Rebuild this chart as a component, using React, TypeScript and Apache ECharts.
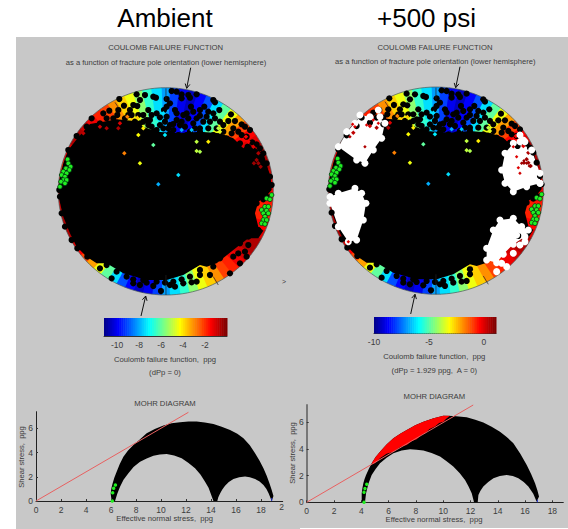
import React, { useEffect, useRef } from "react";
import * as echarts from "echarts";

const FONT = "'Liberation Sans', Arial, sans-serif";
const GRAY = "#c8c8c8";
const INK = "#3c3c3c";

// Jet colour table used by both colour bars and by the stereonets
const jet = [
  "#00008f","#00009f","#0000af","#0000bf","#0000cf","#0000df","#0000ef","#0000ff",
  "#0010ff","#0020ff","#0030ff","#0040ff","#0050ff","#0060ff","#0070ff","#0080ff",
  "#008fff","#009fff","#00afff","#00bfff","#00cfff","#00dfff","#00efff","#00ffff",
  "#10ffef","#20ffdf","#30ffcf","#40ffbf","#50ffaf","#60ff9f","#70ff8f","#80ff80",
  "#8fff70","#9fff60","#afff50","#bfff40","#cfff30","#dfff20","#efff10","#ffff00",
  "#ffef00","#ffdf00","#ffcf00","#ffbf00","#ffaf00","#ff9f00","#ff8f00","#ff8000",
  "#ff7000","#ff6000","#ff5000","#ff4000","#ff3000","#ff2000","#ff1000","#ff0000",
  "#ef0000","#df0000","#cf0000","#bf0000","#af0000","#9f0000","#8f0000","#800000",
];

// Coulomb failure function at the rim, by azimuth (every 5 deg, bipolar over 180 deg)
const rimCff = [
  -8.2,-9.2,-10.2,-10.6,-10,-9,-7.5,-6,-4.5,-3.2,-2.2,-1.5,-1,-0.6,-0.5,-0.6,-0.8,-1.2,
  -1.4,-1.6,-1.8,-1.7,-1.4,-1,-0.6,-0.5,-0.8,-1.2,-1.7,-2.2,-3,-3.8,-4.5,-5.5,-6.5,-7.5,
];

// Stereonet plane: plot units, centre at (497.5, 574)
const netCentre = [497.5, 574];
const netRadius = [322.5, 311];

const blackMass = [
  [235,412],[270,372],[310,365],[350,358],[395,362],[430,380],[470,395],[540,400],[600,395],[660,400],
  [700,415],[730,445],[745,432],[770,447],[792,465],[802,500],[812,530],[815,570],[797,590],[775,605],
  [765,640],[775,680],[790,692],[775,715],[745,715],[700,750],[650,790],[620,800],[600,795],[550,825],
  [500,840],[440,840],[370,820],[320,790],[290,790],[260,770],[230,740],[210,700],[190,650],[178,600],
  [178,540],[190,490],[205,450],
];

const blackDots = [
  [275,355],[310,340],[328,332],[358,297],[355,330],[390,330],[372,317],[400,315],[412,318],[420,300],
  [435,285],[460,290],[468,293],[410,283],[500,297],[492,330],[445,330],[430,345],[480,375],[470,390],
  [450,360],[430,365],[405,365],[375,355],[340,355],[320,355],[300,370],
  [515,273],[530,275],[545,283],[565,285],[570,293],[590,283],[545,295],[510,310],[500,320],[525,330],
  [530,340],[573,320],[613,320],[640,300],[645,307],[658,330],[640,340],[685,363],[705,363],[693,343],
  [725,373],[735,380],[750,390],[743,440],[757,427],[770,433],[695,400],[670,375],[600,347],[620,350],
  [630,365],[580,335],[550,345],[565,355],[580,370],[530,360],[555,380],[510,375],
  [340,375],[390,385],[440,400],[470,410],[510,400],[560,405],[600,385],[640,405],[680,415],[720,430],
  [610,365],[520,390],[420,370],[455,380],[600,395],[500,350],[470,340],[440,360],
  [352,345],[385,345],[415,345],[455,345],[395,345],[480,352],[495,365],[505,385],[520,372],[540,375],
  [545,365],[560,340],[590,355],[600,330],[625,335],[645,355],[660,365],[650,385],[625,385],[585,385],
  [570,395],[535,405],[490,385],[460,395],[445,375],[410,385],[670,395],[700,385],[715,395],[740,410],[725,405],
  [178,570],[180,590],[185,640],[195,680],[215,720],[232,745],[262,770],[275,765],[300,805],[335,835],
  [320,795],[400,850],[420,855],[440,848],[460,858],[483,873],[510,855],[525,860],[550,850],[575,847],
  [590,845],[600,810],[230,408],[260,380],[205,450],[815,555],[810,530],[800,490],[790,460],[780,445],
  [800,590],[790,598],[770,610],[775,690],[745,710],
  [470,845],[430,840],[400,838],[520,845],[545,838],[495,848],[570,830],[600,825],[380,830],[350,815],
];
const ambientOnlyDots = [
  [740,770],[715,760],[700,770],[720,790],[690,820],[745,735],[770,700],[640,800],[660,775],[690,745],
  [720,730],[735,755],[630,825],
];
// Coloured gaps between the points: x, y, CFF
const gaps = [
  [775,490,-0.3],[770,480,-0.3],[782,500,-0.3],[762,490,-0.3],[745,425,-1.5],[760,440,-1],[775,460,-0.5],[738,410,-1.5],
  [320,385,-0.5],[360,370,-1],[300,380,-0.8],[250,400,-0.7],[355,385,-0.6],[382,350,-2.8],[412,353,-3.8],[430,385,-4],
  [415,405,-4.2],[470,365,-6.5],[490,340,-7.5],[495,405,-7.3],[460,435,-6],[600,455,-5.2],[590,453,-5],[535,525,-7.5],
  [475,553,-8],[420,490,-4.5],[590,425,-5],[625,425,-4],[545,390,-8],[575,390,-7.8],[655,385,-5],[660,395,-4.6],[373,460,-2.8],
];
const greenDots = [
  [203,478],[205,490],[212,500],[198,505],[208,510],[190,515],[200,520],[185,525],[195,530],[190,540],[183,545],[200,540],[180,560],[195,550],
  [815,585],[800,595],[810,598],[795,620],[805,620],[785,630],[800,632],[790,640],[805,640],[795,650],[790,660],[800,660],[785,670],[795,672],
];
const netLines = [
  [498,265],[498,300],[null,null],[498,825],[498,885],[null,null],[345,307],[355,322],[null,null],[640,830],[655,855],
];

// Regions past failure at +500 psi (white)
const whiteA = [[270,347],[300,352],[330,352],[345,372],[335,417],[310,452],[285,492],[260,482],[205,442],[230,397],[255,372]];
const whiteB = [[730,432],[750,427],[765,427],[785,452],[810,522],[810,552],[770,562],[730,577],[705,552],[695,512],[705,462]];
const whiteC = [[205,582],[255,567],[275,582],[288,612],[280,662],[260,722],[235,727],[205,682],[180,612],[180,592]];
const whiteD = [[690,662],[730,657],[755,682],[775,692],[765,712],[730,735],[700,765],[680,790],[650,782],[650,747],[670,692]];
const whiteExtra = [[730,762],[710,802],[680,817],[740,707],[765,727],[750,737],[695,792],[750,407],[760,422],[325,332],[810,552]];
const redInWhite = [
  [255,382,-1],[290,377,-1],[325,372,-1],[240,412,-0.6],[285,442,-0.6],[310,362,-1],[248,375,-1],
  [770,492,-0.3],[762,484,-0.3],[778,500,-0.3],[755,492,-0.3],[750,522,-0.8],[730,442,-1],[740,472,-1],[745,505,-1],[235,727,-1],
];

// Mohr diagrams: effective normal stress, shear stress
const mohrAmbient = [
  [6.05,0],[5.97,0.63],[6.03,1.05],[6.13,1.46],[6.27,1.95],[6.45,2.42],[6.7,3.05],[6.99,3.66],[7.36,4.18],[7.79,4.63],
  [8.3,5.08],[8.85,5.59],[9.5,5.95],[10.19,6.23],[10.85,6.42],[11.52,6.5],[12.2,6.56],[12.85,6.56],[13.5,6.48],[14.19,6.36],
  [14.85,6.14],[15.52,5.87],[16.1,5.55],[16.59,5.18],[17.1,4.6],[17.52,3.94],[17.88,3.32],[18.19,2.7],[18.45,2.08],[18.67,1.46],
  [18.85,0.9],[18.99,0.41],[18.85,0],[18.61,0.63],[18.43,1],[18.19,1.32],[17.88,1.62],[17.52,1.82],[17.1,1.97],[16.72,2.02],
  [16.25,1.97],[15.79,1.82],[15.42,1.58],[15.12,1.27],[14.9,0.95],[14.72,0.63],[14.58,0.3],[14.5,0],[14.19,0],[13.97,0.63],
  [13.8,1.1],[13.52,1.6],[13.15,2.2],[12.72,2.7],[12.2,3.15],[11.65,3.53],[11.05,3.75],[10.45,3.89],[9.9,3.85],[9.39,3.73],
  [8.85,3.52],[8.32,3.25],[7.8,2.8],[7.39,2.29],[7,1.75],[6.72,1.18],[6.5,0.6],[6.32,0],
];
const mohrPressured = [
  [4.03,0],[4.03,0.68],[4.08,1.05],[4.15,1.43],[4.24,1.75],[4.35,2.05],[4.55,2.5],[4.76,2.93],[5.05,3.4],[5.37,3.8],
  [5.85,4.33],[6.35,4.8],[6.85,5.15],[7.33,5.43],[7.95,5.78],[8.55,6.05],[9.3,6.3],[10.01,6.5],[10.74,6.48],[11.72,6.38],
  [12.35,6.2],[12.94,5.98],[13.55,5.67],[14.16,5.3],[14.65,4.9],[15.14,4.43],[15.65,3.65],[16.12,2.8],[16.45,2.1],[16.73,1.43],
  [16.9,0.9],[17.02,0.43],[16.85,0.05],[16.6,0.65],[16.24,1.18],[15.9,1.52],[15.51,1.8],[15.1,1.97],[14.65,2.05],[14.15,1.97],
  [13.68,1.8],[13.3,1.52],[12.94,1.18],[12.72,0.85],[12.58,0.55],[12.53,0],[12.26,0],[12.09,0.68],[11.85,1.2],[11.6,1.68],
  [11.2,2.2],[10.74,2.68],[10.25,3.08],[9.77,3.43],[9.15,3.7],[8.55,3.88],[8.05,3.95],[7.57,3.98],[6.95,3.88],[6.35,3.68],
  [5.85,3.35],[5.37,2.93],[5.05,2.5],[4.76,2.05],[4.52,1.4],[4.35,0.68],[4.27,0],
];
const mohrFailed = [
  [4.76,2.93],[5.05,3.4],[5.37,3.8],[5.85,4.33],[6.35,4.8],[6.85,5.15],[7.33,5.43],[7.95,5.78],[8.55,6.05],[9.3,6.3],[10.01,6.5],
  [10.5,6.5],[10.2,6.25],[10.01,6.05],[9.7,5.95],[9.4,5.68],[9,5.5],[8.67,5.18],[8.4,5.05],[8.06,4.73],[7.7,4.6],[7.33,4.3],[6.85,4.15],[6.35,3.8],
  [5.85,3.65],[5.37,3.3],[5.1,3],[4.88,2.88],
];
const mohrGreenAmbient = [[6.1,0],[6.13,0.69],[6.21,1.05],[6.35,1.32]];
const mohrGreenPressured = [[4.2,0],[4.2,0.75],[4.27,1.03],[4.4,1.35]];
const frictionAmbient = [[0,0],[12.19,7.33]];
const frictionPressured = [[0,0],[12.2,7.3]];
const blueAmbient = [[18.85,0],[18.85,0.25]];
const bluePressured = [[16.9,0],[16.9,0.2]];

const mohrXTicksAmbient = [0,2,4,6,8,10,12,14,16,18];
const mohrXTicksPressured = [0,2,4,6,8,10,12,14,16,18];
const mohrYTicks = [0,2,4,6];
const barTicksAmbient = [-10,-8,-6,-4,-2];
const barTicksPressured = [-10,-5,0];

const cffColor = (v: number) => jet[Math.max(0, Math.min(63, Math.round(((v + 11.2) / 11.2) * 63)))];

function polygon(xi: number, points: number[][], fill: string) {
  return {
    type: "custom", xAxisIndex: xi, yAxisIndex: xi, data: points, clip: false, silent: true,
    renderItem: (p: any, api: any) =>
      p.dataIndex !== 0 ? null : { type: "polygon", shape: { points: points.map((q) => api.coord(q)) }, style: { fill } },
  };
}
function dots(xi: number, data: number[][], size: number, color: string, extra: any = {}) {
  return { type: "scatter", xAxisIndex: xi, yAxisIndex: xi, data, symbolSize: size, clip: false, silent: true, itemStyle: { color, opacity: 1, ...extra } };
}
function coloured(xi: number, data: number[][], size: number) {
  return {
    type: "scatter", xAxisIndex: xi, yAxisIndex: xi, symbol: "diamond", symbolSize: size, clip: false, silent: true,
    data: data.map((d) => ({ value: [d[0], d[1]], itemStyle: { color: cffColor(d[2]), opacity: 1 } })),
  };
}
function wedges(xi: number) {
  return {
    type: "custom", xAxisIndex: xi, yAxisIndex: xi, clip: false, silent: true,
    data: rimCff.map((v, i) => [i * 5, v]),
    renderItem: (_: any, api: any) => {
      const az = api.value(0) as number;
      const fill = cffColor(api.value(1) as number);
      const half = (a0: number) => {
        const pts = [api.coord(netCentre)];
        for (let k = -1; k <= 1; k++) {
          const a = ((a0 + k * 2.8) * Math.PI) / 180;
          pts.push(api.coord([netCentre[0] + netRadius[0] * Math.sin(a), netCentre[1] - netRadius[1] * Math.cos(a)]));
        }
        return { type: "polygon", shape: { points: pts }, style: { fill } };
      };
      return { type: "group", children: [half(az), half(az + 180)] };
    },
  };
}
function rim(xi: number) {
  return {
    type: "custom", xAxisIndex: xi, yAxisIndex: xi, clip: false, silent: true, data: [netCentre],
    renderItem: (_: any, api: any) => {
      const c = api.coord(netCentre);
      const e = api.coord([netCentre[0] + netRadius[0], netCentre[1] + netRadius[1]]);
      return { type: "ellipse", shape: { cx: c[0], cy: c[1], rx: e[0] - c[0], ry: e[1] - c[1] }, style: { fill: "none", stroke: "#4a5a5a", lineWidth: 0.7 } };
    },
  };
}
function colourBar(xi: number, lo: number, hi: number) {
  return {
    type: "custom", xAxisIndex: xi, yAxisIndex: xi, silent: true,
    data: jet.map((_, i) => [lo + ((hi - lo) * i) / jet.length, 0]),
    renderItem: (p: any, api: any) => {
      const a = api.coord([api.value(0), 1]);
      const b = api.coord([(api.value(0) as number) + (hi - lo) / jet.length, 0]);
      return { type: "rect", shape: { x: a[0], y: a[1], width: b[0] - a[0] + 0.5, height: b[1] - a[1] }, style: { fill: jet[p.dataIndex] } };
    },
  };
}
function lineSeries(xi: number, data: any[], color: string, width: number) {
  return { type: "line", xAxisIndex: xi, yAxisIndex: xi, data, symbol: "none", clip: false, silent: true, connectNulls: false, lineStyle: { color, width } };
}

const hiddenNetX = (gridIndex: number) => ({ type: "value", gridIndex, min: 175, max: 820, show: false });
const hiddenNetY = (gridIndex: number) => ({ type: "value", gridIndex, min: 263, max: 885, inverse: true, show: false });

const tickText = { color: INK, fontFamily: FONT, fontSize: 8.5 };
function shownAxis(gridIndex: number, min: number, max: number, ticks: number[], color = "#222", width = 1, margin = 4) {
  return {
    type: "value", gridIndex, min, max, splitLine: { show: false },
    axisLine: { show: true, onZero: false, lineStyle: { color, width } },
    axisTick: { show: true, inside: true, length: 2, customValues: ticks, lineStyle: { color: "#333" } },
    axisLabel: { show: true, customValues: ticks, margin, ...tickText },
  };
}

function text(t: string, x: number, y: number, fontSize = 7.7, extra: any = {}) {
  return {
    type: "text", x, y, z: 20, silent: true,
    style: { text: t, fill: INK, font: `${fontSize}px ${FONT}`, textAlign: "center", textVerticalAlign: "middle", ...extra.style },
    ...(extra.rotation !== undefined ? { rotation: extra.rotation } : {}),
  };
}
function arrow(x1: number, y1: number, x2: number, y2: number) {
  const ang = Math.atan2(y2 - y1, x2 - x1);
  const h = 5;
  const pa = [x2 - h * Math.cos(ang - 0.5), y2 - h * Math.sin(ang - 0.5)];
  const pb = [x2 - h * Math.cos(ang + 0.5), y2 - h * Math.sin(ang + 0.5)];
  const st = { stroke: "#111", lineWidth: 1, fill: "none" };
  return [
    { type: "line", z: 20, silent: true, shape: { x1, y1, x2, y2 }, style: st },
    { type: "polyline", z: 20, silent: true, shape: { points: [pa, [x2, y2], pb] }, style: st },
  ];
}

const option: any = {
  animation: false,
  backgroundColor: "#ffffff",
  grid: [
    { left: 58.3, top: 87.7, width: 215, height: 207.3 },
    { left: 328.3, top: 87, width: 215, height: 207.3 },
    { left: 104, top: 318, width: 123, height: 18 },
    { left: 374, top: 317, width: 122, height: 16.5 },
    { left: 36, top: 411.7, width: 246.7, height: 89.3 },
    { left: 306.7, top: 405, width: 256.6, height: 97.3 },
  ],
  xAxis: [
    hiddenNetX(0),
    hiddenNetX(1),
    shownAxis(2, -11.2, 0, barTicksAmbient, "#333"),
    shownAxis(3, -10, 1.1, barTicksPressured, "#333"),
    shownAxis(4, 0, 19.73, mohrXTicksAmbient),
    shownAxis(5, 0, 18.8, mohrXTicksPressured),
  ],
  yAxis: [
    hiddenNetY(0),
    hiddenNetY(1),
    { type: "value", gridIndex: 2, min: 0, max: 1, show: false },
    { type: "value", gridIndex: 3, min: 0, max: 1, show: false },
    shownAxis(4, 0, 7.38, mohrYTicks, "#222", 1, 3),
    shownAxis(5, 0, 7.3, mohrYTicks, "#777", 2, 3),
  ],
  series: [
    // Ambient stereonet
    wedges(0),
    polygon(0, blackMass, "#000"),
    dots(0, blackDots, 6.2, "#000"),
    dots(0, ambientOnlyDots, 6.2, "#000"),
    coloured(0, gaps, 4.5),
    dots(0, greenDots, 4.6, "#22ee22", { borderColor: "#031", borderWidth: 0.8 }),
    lineSeries(0, netLines, "#222", 0.7),
    rim(0),
    // +500 psi stereonet
    wedges(1),
    polygon(1, blackMass, "#000"),
    dots(1, blackDots, 6.2, "#000"),
    coloured(1, gaps, 4.5),
    polygon(1, whiteA, "#fff"),
    polygon(1, whiteB, "#fff"),
    polygon(1, whiteC, "#fff"),
    polygon(1, whiteD, "#fff"),
    dots(1, [...whiteA, ...whiteB, ...whiteC, ...whiteD, ...whiteExtra], 7, "#fff"),
    coloured(1, redInWhite, 3.5),
    dots(1, greenDots, 4.6, "#22ee22", { borderColor: "#031", borderWidth: 0.8 }),
    lineSeries(1, netLines, "#222", 0.7),
    rim(1),
    // Colour bars
    colourBar(2, -11.2, 0),
    colourBar(3, -10, 1.1),
    // Mohr diagrams
    polygon(4, mohrAmbient, "#000"),
    lineSeries(4, frictionAmbient, "#e86060", 1),
    lineSeries(4, blueAmbient, "#2030d0", 1),
    dots(4, mohrGreenAmbient, 3.5, "#22ee22"),
    polygon(5, mohrPressured, "#000"),
    polygon(5, mohrFailed, "#ff0000"),
    lineSeries(5, frictionPressured, "#e86060", 1),
    lineSeries(5, bluePressured, "#2030d0", 1),
    dots(5, mohrGreenPressured, 3.5, "#22ee22"),
  ],
  graphic: [
    { type: "rect", z: -10, silent: true, shape: { x: 16, y: 37, width: 552, height: 492 }, style: { fill: GRAY } },
    { type: "rect", z: -9, silent: true, shape: { x: 300, y: 528, width: 268, height: 1 }, style: { fill: "#fff" } },
    text("Ambient", 165, 18, 26, { style: { fill: "#000" } }),
    text("+500 psi", 426.5, 18, 26, { style: { fill: "#000" } }),
    text("COULOMB FAILURE FUNCTION", 165.7, 47.7),
    text("as a function of fracture pole orientation (lower hemisphere)", 166, 62.3, 7.6),
    text("COULOMB FAILURE FUNCTION", 435, 47),
    text("as a function of fracture pole orientation (lower hemisphere)", 435.3, 61, 7.6),
    text("Coulomb failure function,  ppg", 165, 359.3),
    text("(dPp = 0)", 165, 372.7),
    text("MOHR DIAGRAM", 165, 403),
    text("Coulomb failure function,  ppg", 434.3, 356.7),
    text("(dPp = 1.929 ppg,  A = 0)", 434.3, 370),
    text("MOHR DIAGRAM", 434.3, 396),
    text("Effective normal stress,  ppg", 164.7, 518),
    text("Effective normal stress,  ppg", 434, 519),
    text("Shear stress,  ppg", 21, 457, 7.6, { rotation: Math.PI / 2 }),
    text("Shear stress,  ppg", 292, 453, 7.6, { rotation: Math.PI / 2 }),
    text("2", 281.5, 507, 8.5),
    text(">", 284, 281, 7),
    ...arrow(190.7, 67.7, 186.7, 88.3),
    ...arrow(141, 316, 145.7, 296),
    ...arrow(460, 66.7, 455.7, 87.7),
    ...arrow(410.7, 314, 415, 294.3),
  ],
};

export default function App() {
  const ref = useRef<HTMLDivElement>(null);
  useEffect(() => {
    document.body.style.margin = "0";
    const chart = echarts.init(ref.current!, undefined, { renderer: "svg" });
    chart.setOption(option);
    return () => chart.dispose();
  }, []);
  return <div ref={ref} style={{ width: 568, height: 529 }} />;
}
